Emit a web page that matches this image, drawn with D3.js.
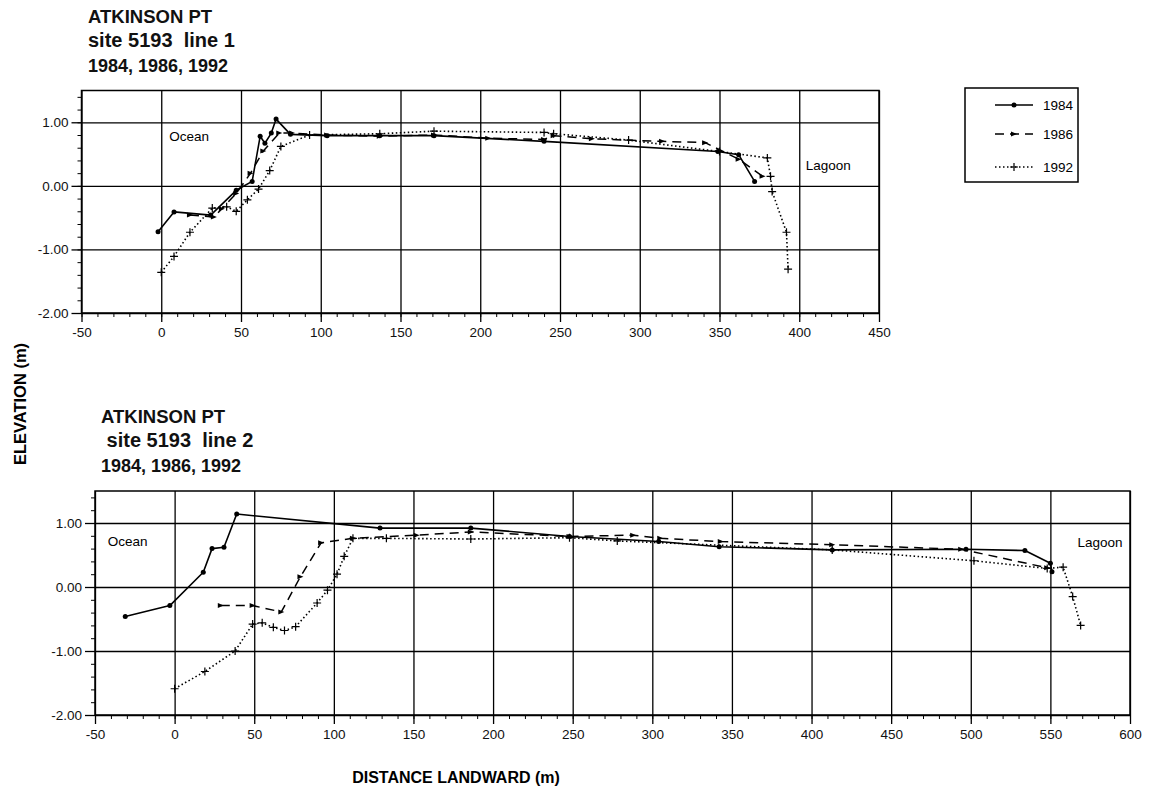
<!DOCTYPE html>
<html>
<head>
<meta charset="utf-8">
<script src="https://cdn.jsdelivr.net/npm/d3@7"></script>
<style>
  body { margin: 0; background: #fff; }
  svg { font-family: "Liberation Sans", Arial, sans-serif; }
</style>
</head>
<body>
<svg width="1152" height="791"></svg>
<script>
// ---- data: [distance (m), elevation (m)] ----
let years = ["1984", "1986", "1992"];

let line1_1984 = [[-2, -0.72], [8, -0.41], [31, -0.46], [47, -0.07], [57, 0.07], [62, 0.78], [65, 0.67],
    [69, 0.83], [72, 1.05], [81, 0.81], [104, 0.79], [137, 0.79], [171, 0.79], [240, 0.70], [349, 0.54],
    [362, 0.49], [372, 0.07]];
let line1_1986 = [[18, -0.46], [33, -0.49], [38, -0.36], [47, -0.12], [56, 0.20], [64, 0.55], [74, 0.83],
    [82, 0.83], [104, 0.80], [137, 0.78], [171, 0.80], [205, 0.75], [240, 0.73], [246, 0.79], [270, 0.74],
    [314, 0.70], [341, 0.68], [362, 0.42], [377, 0.15]];
let line1_1992 = [[0, -1.36], [8, -1.11], [18, -0.73], [32, -0.35], [41, -0.33], [47, -0.40], [54, -0.22],
    [61, -0.05], [68, 0.24], [75, 0.62], [93, 0.80], [137, 0.82], [171, 0.86], [240, 0.84], [246, 0.82],
    [293, 0.72], [350, 0.54], [380, 0.44], [382, 0.15], [383, -0.09], [392, -0.73], [393, -1.31]];

let line2_1984 = [[-31, -0.46], [-3, -0.29], [18, 0.23], [23.5, 0.60], [31, 0.62], [39, 1.14], [129, 0.92],
    [186, 0.92], [248, 0.79], [304, 0.71], [342, 0.63], [413, 0.58], [497, 0.59], [534, 0.57], [550, 0.37],
    [551, 0.24]];
let line2_1986 = [[29, -0.29], [49, -0.29], [67, -0.39], [79, 0.16], [92, 0.69], [112, 0.76], [152, 0.81],
    [186, 0.86], [248, 0.79], [288, 0.81], [305, 0.76], [343, 0.71], [413, 0.66], [494, 0.59], [548, 0.30]];
let line2_1992 = [[0, -1.59], [19, -1.32], [38, -1.00], [49, -0.58], [55, -0.56], [62, -0.63], [69, -0.68],
    [76, -0.62], [89.5, -0.25], [96, -0.05], [102, 0.20], [106.5, 0.48], [112, 0.76], [133, 0.76], [186, 0.75],
    [248, 0.77], [278, 0.72], [413, 0.58], [502, 0.41], [548, 0.29], [558, 0.31], [564, -0.15], [569, -0.60]];

let yTicks = [-2, -1, 0, 1];
let xTicks1 = d3.range(-50, 451, 50);
let xTicks2 = d3.range(-50, 601, 50);

let svg = d3.select("svg");

// line style for each year
let styles = {
    "1984": {dash: null, width: 1.6, marker: "dot"},
    "1986": {dash: "9,6", width: 1.5, marker: "arrow"},
    "1992": {dash: "1.5,2.5", width: 1.6, marker: "plus"}
};

// plain hyphen minus like the original print
let fmtX = d => String(d);
let fmtY = d => d.toFixed(2);

function drawMarker(g, kind, x, y) {
    if (kind === "dot") {
        g.append("circle").attr("cx", x).attr("cy", y).attr("r", 2.5).attr("fill", "#000");
    } else if (kind === "arrow") {
        g.append("path").attr("d", "M" + (x - 3) + "," + (y - 2.5) + "L" + (x + 3) + "," + y + "L" + (x - 3) + "," + (y + 2.5) + "Z")
            .attr("fill", "#000");
    } else {
        g.append("path").attr("d", "M" + (x - 4) + "," + y + "H" + (x + 4) + "M" + x + "," + (y - 4) + "V" + (y + 4))
            .attr("stroke", "#000").attr("stroke-width", 1.2);
    }
}

function drawPanel(opt) {
    let x = d3.scaleLinear().domain(opt.xDomain).range(opt.xRange);
    let y = d3.scaleLinear().domain([-2, 1.5]).range(opt.yRange);
    let g = svg.append("g");
    let top = opt.yRange[1], bottom = opt.yRange[0];
    let left = opt.xRange[0], right = opt.xRange[1];

    // grid
    g.append("g").attr("transform", "translate(0," + bottom + ")")
        .call(d3.axisBottom(x).tickValues(opt.xTicks).tickSize(-(bottom - top)).tickFormat(""))
        .call(a => a.select(".domain").remove())
        .selectAll("line").attr("stroke", "#000").attr("stroke-width", 1.3);
    g.append("g").attr("transform", "translate(" + left + ",0)")
        .call(d3.axisLeft(y).tickValues(yTicks).tickSize(-(right - left)).tickFormat(""))
        .call(a => a.select(".domain").remove())
        .selectAll("line").attr("stroke", "#000").attr("stroke-width", 1.3);

    // minor ticks
    g.append("g").attr("transform", "translate(0," + bottom + ")")
        .call(d3.axisBottom(x).tickValues(d3.range(opt.xDomain[0], opt.xDomain[1] + 1, 10)).tickSize(4).tickFormat(""))
        .call(a => a.select(".domain").remove())
        .selectAll("line").attr("stroke", "#000");
    g.append("g").attr("transform", "translate(" + left + ",0)")
        .call(d3.axisLeft(y).tickValues(d3.range(-2, 1.51, 0.2)).tickSize(4).tickFormat(""))
        .call(a => a.select(".domain").remove())
        .selectAll("line").attr("stroke", "#000");

    // major axes with labels
    let xa = g.append("g").attr("transform", "translate(0," + bottom + ")")
        .call(d3.axisBottom(x).tickValues(opt.xTicks).tickSize(9).tickPadding(5).tickFormat(fmtX));
    xa.select(".domain").remove();
    xa.selectAll("line").attr("stroke", "#000").attr("stroke-width", 1.3);
    xa.selectAll("text").attr("font-size", 13.5).attr("fill", "#111");
    let ya = g.append("g").attr("transform", "translate(" + left + ",0)")
        .call(d3.axisLeft(y).tickValues(yTicks).tickSize(10).tickPadding(3).tickFormat(fmtY));
    ya.select(".domain").remove();
    ya.selectAll("line").attr("stroke", "#000").attr("stroke-width", 1.3);
    ya.selectAll("text").attr("font-size", 13.5).attr("fill", "#111");

    // frame
    g.append("rect").attr("x", left).attr("y", top).attr("width", right - left).attr("height", bottom - top)
        .attr("fill", "none").attr("stroke", "#000").attr("stroke-width", 1.5);

    // series
    let line = d3.line().x(d => x(d[0])).y(d => y(d[1]));
    opt.series.forEach((pts, i) => {
        let st = styles[years[i]];
        g.append("path").attr("d", line(pts)).attr("fill", "none").attr("stroke", "#000")
            .attr("stroke-width", st.width).attr("stroke-dasharray", st.dash)
            .attr("stroke-linejoin", "round");
        let mg = g.append("g");
        pts.forEach(p => drawMarker(mg, st.marker, x(p[0]), y(p[1])));
    });

    // place labels
    g.append("text").attr("x", x(opt.ocean[0])).attr("y", y(opt.ocean[1])).attr("font-size", 13.5).text("Ocean");
    g.append("text").attr("x", x(opt.lagoon[0])).attr("y", y(opt.lagoon[1])).attr("font-size", 13.5).text("Lagoon");

    // titles
    let t = svg.append("g").attr("font-weight", "bold").attr("fill", "#111");
    t.append("text").attr("x", opt.titleX).attr("y", opt.titleY).attr("font-size", 18.5).text("ATKINSON PT");
    t.append("text").attr("x", opt.titleX).attr("y", opt.titleY + 24).attr("font-size", 20)
        .attr("xml:space", "preserve").text(opt.sub);
    t.append("text").attr("x", opt.titleX).attr("y", opt.titleY + 49).attr("font-size", 18).text(years.join(", "));
}

drawPanel({
    xDomain: [-50, 450], xRange: [81.5, 879], yRange: [313, 90.5], xTicks: xTicks1,
    series: [line1_1984, line1_1986, line1_1992],
    ocean: [5, 0.70], lagoon: [404, 0.25],
    titleX: 88, titleY: 23, sub: "site 5193  line 1"
});

drawPanel({
    xDomain: [-50, 600], xRange: [95, 1130], yRange: [715, 491], xTicks: xTicks2,
    series: [line2_1984, line2_1986, line2_1992],
    ocean: [-42, 0.64], lagoon: [567, 0.62],
    titleX: 101, titleY: 423, sub: " site 5193  line 2"
});

// legend
let lg = svg.append("g");
lg.append("rect").attr("x", 965).attr("y", 88).attr("width", 113).attr("height", 94)
    .attr("fill", "#fff").attr("stroke", "#000").attr("stroke-width", 1.5);
years.forEach((yr, i) => {
    let st = styles[yr];
    let yy = [105, 134, 167][i];
    lg.append("line").attr("x1", 995).attr("x2", 1033).attr("y1", yy).attr("y2", yy)
        .attr("stroke", "#000").attr("stroke-width", st.width).attr("stroke-dasharray", st.dash);
    drawMarker(lg, st.marker, 1014, yy);
    lg.append("text").attr("x", 1043).attr("y", yy + 5).attr("font-size", 13.5).text(yr);
});

// axis titles
svg.append("text").attr("transform", "translate(26,404) rotate(-90)").attr("text-anchor", "middle")
    .attr("font-weight", "bold").attr("font-size", 16.5).text("ELEVATION (m)");
svg.append("text").attr("x", 456).attr("y", 783).attr("text-anchor", "middle")
    .attr("font-weight", "bold").attr("font-size", 16).text("DISTANCE LANDWARD (m)");
</script>
</body>
</html>
